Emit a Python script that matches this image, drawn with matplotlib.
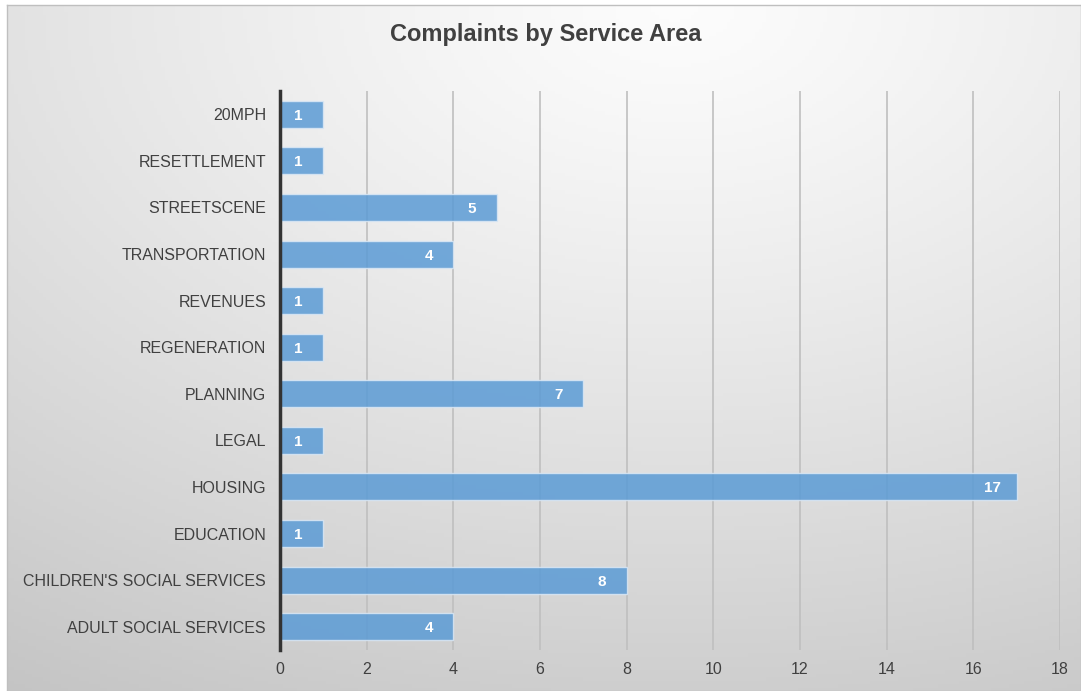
import numpy as np
import matplotlib
matplotlib.use('Agg')
import matplotlib.pyplot as plt

plt.rcParams['font.family'] = ['Liberation Sans', 'DejaVu Sans']

# data, bottom to top as in the chart
areas = ['ADULT SOCIAL SERVICES', "CHILDREN'S SOCIAL SERVICES", 'EDUCATION', 'HOUSING',
         'LEGAL', 'PLANNING', 'REGENERATION', 'REVENUES', 'TRANSPORTATION',
         'STREETSCENE', 'RESETTLEMENT', '20MPH']
complaints = [4, 8, 1, 17, 1, 7, 1, 1, 4, 5, 1, 1]

fig = plt.figure(figsize=(10.81, 6.91), dpi=100)
fig.patch.set_facecolor('white')

# radial gradient background
bg = fig.add_axes([7 / 1081, 0, 1 - 7 / 1081, 1 - 5 / 691])
h, w = 200, 300
yy, xx = np.mgrid[0:h, 0:w]
cx, cy = 0.62 * w, 0.0
d = np.sqrt(((xx - cx) / w) ** 2 + ((yy - cy) / h) ** 2)
d = np.clip(d / d.max(), 0, 1)
shade = 0.99 - 0.22 * d ** 1.2
bg.imshow(np.dstack([shade] * 3), aspect='auto', extent=[0, 1, 0, 1], origin='upper')
bg.set_xticks([])
bg.set_yticks([])
for s in bg.spines.values():
    s.set_color('#bfbfbf')
    s.set_linewidth(1)

ax = fig.add_axes([280 / 1081, 1 - 650 / 691, 780 / 1081, 559 / 691])
ax.patch.set_alpha(0)

y = np.arange(len(areas))
bars = ax.barh(y, complaints, height=0.58, color='#5b9bd5', alpha=0.85,
               edgecolor='#dbe8f5', linewidth=1, zorder=3)
for b, v in zip(bars, complaints):
    ax.text(b.get_width() - 0.57, b.get_y() + b.get_height() / 2, str(v),
            ha='center', va='center_baseline', color='white',
            fontsize=11, fontweight='bold', zorder=4)

ax.set_xlim(0, 18)
ax.set_ylim(-0.5, len(areas) - 0.5)
ax.set_xticks(range(0, 19, 2))
ax.set_yticks(y)
ax.set_yticklabels(areas)
ax.tick_params(axis='both', length=0, labelsize=11.5, colors='#404040')
ax.tick_params(axis='x', pad=9)
ax.tick_params(axis='y', pad=10)
ax.grid(axis='x', color='#bfbfbf', linewidth=1.2, zorder=0)
for k in ['top', 'right', 'bottom']:
    ax.spines[k].set_visible(False)
ax.spines['left'].set_color('#333333')
ax.spines['left'].set_linewidth(2.5)
ax.spines['left'].set_zorder(5)

fig.text(0.505, 1 - 34 / 691, 'Complaints by Service Area', ha='center', va='center',
         fontsize=17, fontweight='bold', color='#404040')

fig.savefig('out.png', dpi=100)
